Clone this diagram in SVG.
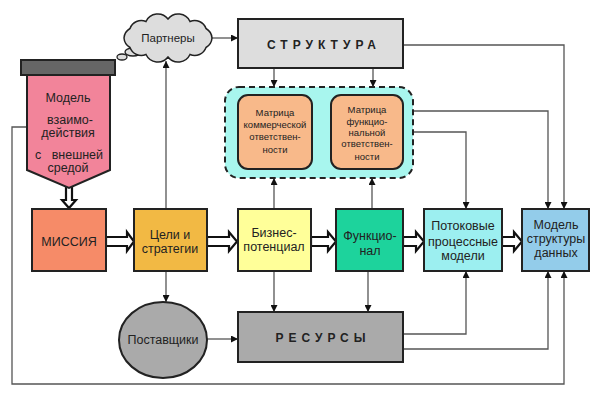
<svg xmlns="http://www.w3.org/2000/svg" width="600" height="400" viewBox="0 0 600 400">
<defs>
<marker id="ah" viewBox="0 0 10 10" refX="10" refY="5" markerWidth="7" markerHeight="7" markerUnits="userSpaceOnUse" orient="auto">
<path d="M0,0 L10,5 L0,10 z" fill="#111"/>
</marker>
<style>
.box{stroke:#222;stroke-width:2}
.t{font-family:"Liberation Sans",Arial,sans-serif;font-size:12.5px;fill:#222;text-anchor:middle}
.s{font-family:"Liberation Sans",Arial,sans-serif;font-size:9.5px;fill:#222;text-anchor:middle}
.b{font-family:"Liberation Sans",Arial,sans-serif;font-size:12px;font-weight:bold;fill:#222;text-anchor:middle;letter-spacing:5px}
.c{fill:none;stroke:#555;stroke-width:1.3}
.ca{fill:none;stroke:#555;stroke-width:1.3;marker-end:url(#ah)}
.da{fill:#fff;stroke:#111;stroke-width:2.2;stroke-linejoin:miter}
</style>
</defs>
<rect width="600" height="400" fill="#fff"/>

<g id="connectors">
<line class="ca" x1="212" y1="38" x2="238" y2="38"/>
<line class="ca" x1="166" y1="209" x2="166" y2="61"/>
<line class="ca" x1="166" y1="271" x2="166" y2="302"/>
<line class="ca" x1="274" y1="68" x2="274" y2="87"/>
<line class="ca" x1="373" y1="68" x2="373" y2="87"/>
<line class="ca" x1="274" y1="209" x2="274" y2="178"/>
<line class="ca" x1="372" y1="209" x2="372" y2="178"/>
<line class="ca" x1="274" y1="271" x2="274" y2="312"/>
<line class="ca" x1="368" y1="271" x2="368" y2="312"/>
<line class="ca" x1="206" y1="339" x2="238" y2="339"/>
<polyline class="ca" points="403,45 564,45 564,209"/>
<polyline class="ca" points="413,111 548,111 548,209"/>
<polyline class="ca" points="403,132 466,132 466,209"/>
<polyline class="ca" points="403,334 466,334 466,271"/>
<polyline class="ca" points="403,349 548,349 548,271"/>
<polyline class="ca" points="27,127 12,127 12,384 564,384 564,271"/>
<polygon class="da" points="106,237 127,237 127,232 134,241.5 127,251 127,246 106,246"/>
<polygon class="da" points="207,237 229,237 229,232 237,241.5 229,251 229,246 207,246"/>
<polygon class="da" points="311,237 328,237 328,232 336,241.5 328,251 328,246 311,246"/>
<polygon class="da" points="403,237 416,237 416,232 424,241.5 416,251 416,246 403,246"/>
<polygon class="da" points="502,237 514,237 514,232 522,241.5 514,251 514,246 502,246"/>
<polygon class="da" points="66,187 72,187 72,200 76,200 69,208 62,200 66,200"/>
</g>

<g id="pennant">
<path d="M27,75 L110,75 L110,170 L69,188 L27,170 Z" fill="#F2849A" class="box"/>
<rect x="21" y="60" width="94" height="15" fill="#666" class="box"/>
<text class="t" x="68" y="102">Модель</text>
<text class="t" x="70" y="124">взаимо-</text>
<text class="t" x="68" y="137">действия</text>
<text class="t" x="69" y="159" xml:space="preserve">с   внешней</text>
<text class="t" x="68" y="172">средой</text>
</g>

<g id="partners">
<ellipse cx="133" cy="52" rx="8" ry="4" fill="#ddd" stroke="#222" stroke-width="1.3"/>
<ellipse cx="122" cy="57" rx="5" ry="3" fill="#ddd" stroke="#222" stroke-width="1.3"/>
<path d="M212,38 A12,12 0 0 1 206,47.5 A12,12 0 0 1 190,54.5 A13,13 0 0 1 168,57 A13,13 0 0 1 146,54.5 A12,12 0 0 1 130,47.5 A12,12 0 0 1 124,38 A12,12 0 0 1 130,28.5 A12,12 0 0 1 146,21.5 A13,13 0 0 1 168,19 A13,13 0 0 1 190,21.5 A12,12 0 0 1 206,28.5 A12,12 0 0 1 212,38 Z" fill="#ddd" stroke="#222" stroke-width="1.5"/>
<text class="t" x="168" y="42" style="font-size:11.5px">Партнеры</text>
</g>

<g id="structure">
<rect x="238" y="19" width="165" height="49" fill="#DDDDDD" class="box"/>
<text class="b" x="324" y="49">СТРУКТУРА</text>
</g>

<g id="matrix-group">
<rect x="225" y="87" width="188" height="91" rx="14" fill="#A8F6EE" stroke="#222" stroke-width="2" stroke-dasharray="6,4"/>
</g>
<g id="matrix-commercial">
<rect x="238" y="95" width="74" height="74" rx="10" fill="#F8B98A" class="box"/>
<text class="s" x="275" y="116">Матрица</text>
<text class="s" x="275" y="128">коммерческой</text>
<text class="s" x="275" y="140">ответствен-</text>
<text class="s" x="275" y="153">ности</text>
</g>
<g id="matrix-functional">
<rect x="331" y="95" width="72" height="74" rx="10" fill="#F8B98A" class="box"/>
<text class="s" x="367" y="113">Матрица</text>
<text class="s" x="367" y="125">функцио-</text>
<text class="s" x="367" y="136">нальной</text>
<text class="s" x="367" y="147">ответствен-</text>
<text class="s" x="367" y="160">ности</text>
</g>

<g id="mission">
<rect x="32" y="209" width="74" height="62" fill="#F68B68" class="box"/>
<text class="t" x="69" y="246">МИССИЯ</text>
</g>
<g id="goals">
<rect x="134" y="209" width="73" height="62" fill="#F2B944" class="box"/>
<text class="t" x="170" y="239">Цели и</text>
<text class="t" x="170" y="253">стратегии</text>
</g>
<g id="business">
<rect x="238" y="209" width="73" height="62" fill="#FFFF99" class="box"/>
<text class="t" x="274" y="237">Бизнес-</text>
<text class="t" x="274" y="251">потенциал</text>
</g>
<g id="functional">
<rect x="336" y="209" width="67" height="62" fill="#1DD39C" class="box"/>
<text class="t" x="370" y="240">Функцио-</text>
<text class="t" x="370" y="255">нал</text>
</g>
<g id="flow">
<rect x="424" y="209" width="78" height="62" fill="#9CEFF0" class="box"/>
<text class="t" x="463" y="230">Потоковые</text>
<text class="t" x="463" y="246">процессные</text>
<text class="t" x="463" y="260">модели</text>
</g>
<g id="datamodel">
<rect x="522" y="209" width="67" height="62" fill="#93CCEA" class="box"/>
<text class="t" x="556" y="229">Модель</text>
<text class="t" x="556" y="243">структуры</text>
<text class="t" x="556" y="257">данных</text>
</g>

<g id="suppliers">
<ellipse cx="163" cy="340" rx="44" ry="38" fill="#AAAAAA" class="box"/>
<text class="t" x="163" y="344">Поставщики</text>
</g>
<g id="resources">
<rect x="238" y="312" width="165" height="50" fill="#AAAAAA" class="box"/>
<text class="b" x="323" y="342">РЕСУРСЫ</text>
</g>
</svg>
